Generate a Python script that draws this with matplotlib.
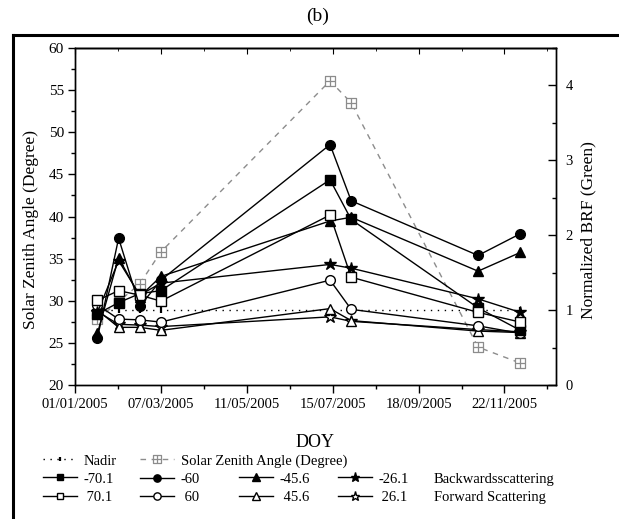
import matplotlib
matplotlib.use('Agg')
import matplotlib.pyplot as plt
import matplotlib.dates as mdates
from matplotlib.path import Path
from matplotlib.lines import Line2D
from matplotlib.ticker import FixedLocator, MultipleLocator
import numpy as np
import pandas as pd

plt.rcParams['font.family'] = 'Liberation Serif'

# composite dates (DOY) and values
dates = ['2005-01-18', '2005-02-03', '2005-02-19', '2005-03-07',
         '2005-07-13', '2005-07-29', '2005-11-02', '2005-12-04']
tick_dates = ['2005-01-01', '2005-03-07', '2005-05-11', '2005-07-15',
              '2005-09-18', '2005-11-22']

sza = [27.8, 29.9, 32.0, 35.8, 56.1, 53.5, 24.5, 22.6]
nadir = [1.0, 1.0, 1.0, 1.0, 1.0, 1.0, 1.0, 1.0]

# backward scattering (filled markers)
m70 = [0.95, 1.10, 1.22, 1.26, 2.74, 2.21, 1.03, 0.73]
m60 = [0.63, 1.96, 1.05, 1.40, 3.21, 2.46, 1.73, 2.02]
m45 = [0.69, 1.70, 1.18, 1.45, 2.19, 2.24, 1.52, 1.77]
m26 = [0.97, 1.66, 1.20, 1.36, 1.61, 1.56, 1.15, 0.97]

# forward scattering (open markers)
p70 = [1.13, 1.26, 1.20, 1.12, 2.27, 1.44, 0.97, 0.84]
p60 = [1.07, 0.88, 0.87, 0.84, 1.40, 1.01, 0.79, 0.69]
p45 = [1.00, 0.77, 0.77, 0.73, 1.02, 0.86, 0.72, 0.70]
p26 = [0.98, 0.81, 0.80, 0.78, 0.91, 0.85, 0.74, 0.71]

W, H = 619, 519
fig = plt.figure(figsize=(W / 100, H / 100), dpi=100)
ax = fig.add_axes([75 / W, 1 - 385 / H, (556 - 75) / W, (385 - 48) / H])
ax2 = ax.twinx()

x = mdates.date2num(pd.to_datetime(dates))
xt = mdates.date2num(pd.to_datetime(tick_dates))
x0 = xt[0]

# square with a cross inside for the solar zenith angle
boxplus = Path([(-1, -1), (1, -1), (1, 1), (-1, 1), (-1, -1), (0, -1), (0, 1), (-1, 0), (1, 0)],
               [Path.MOVETO, Path.LINETO, Path.LINETO, Path.LINETO, Path.CLOSEPOLY,
                Path.MOVETO, Path.LINETO, Path.MOVETO, Path.LINETO])

l_sza, = ax.plot(x, sza, color='#8c8c8c', ls=(0, (4, 4)), lw=1, marker=boxplus,
                 ms=7, mfc='white', mec='#8c8c8c', mew=0.9)

l_nad, = ax2.plot(x, nadir, color='k', ls=(0, (1, 4)), lw=1, marker='|', ms=4, mew=1.6)

style = dict(color='k', lw=1, mec='k', mew=1)
l_p26, = ax2.plot(x, p26, marker='*', ms=9, mfc='white', **style)
l_p45, = ax2.plot(x, p45, marker='^', ms=7.5, mfc='white', **style)
l_p60, = ax2.plot(x, p60, marker='o', ms=7, mfc='white', **style)
l_m26, = ax2.plot(x, m26, marker='*', ms=9, mfc='k', **style)
l_m45, = ax2.plot(x, m45, marker='^', ms=7.5, mfc='k', **style)
l_m70, = ax2.plot(x, m70, marker='s', ms=6.5, mfc='k', **style)
l_p70, = ax2.plot(x, p70, marker='s', ms=6.5, mfc='white', **style)
l_m60, = ax2.plot(x, m60, marker='o', ms=7, mfc='k', **style)

ax.set_xlim(x0, x0 + 364)
ax.set_ylim(20, 60)
ax2.set_ylim(0, 4.5)

ax.xaxis.set_major_locator(FixedLocator(xt))
ax.xaxis.set_minor_locator(FixedLocator(xt + 32.5))
ax.xaxis.set_major_formatter(mdates.DateFormatter('%d/%m/%Y'))
ax.yaxis.set_major_locator(MultipleLocator(5))
ax.yaxis.set_minor_locator(MultipleLocator(2.5))
ax2.yaxis.set_major_locator(FixedLocator([0, 1, 2, 3, 4]))
ax2.yaxis.set_minor_locator(MultipleLocator(0.5))

ax.tick_params(axis='x', which='major', direction='out', length=6, width=1, labelsize=10.5, pad=3)
ax.tick_params(axis='x', which='minor', direction='out', length=3, width=1)
ax.tick_params(axis='y', which='major', direction='out', length=5, width=1, labelsize=11, pad=3)
ax.tick_params(axis='y', which='minor', direction='out', length=3, width=1)
ax2.tick_params(axis='y', which='major', direction='in', length=6, width=1, labelsize=10.5, pad=7)
ax2.tick_params(axis='y', which='minor', direction='in', length=3, width=1)

top = ax.secondary_xaxis('top')
top.xaxis.set_major_locator(FixedLocator(xt))
top.xaxis.set_minor_locator(FixedLocator(xt + 32.5))
top.tick_params(which='major', direction='in', length=4, labeltop=False)
top.tick_params(which='minor', direction='in', length=2)

for a in (ax, ax2, top):
    for s in a.spines.values():
        s.set_linewidth(1)

ax.set_xlabel('DOY', fontsize=13)
ax.xaxis.set_label_coords(0.5, -0.145)
ax.set_ylabel('Solar Zenith Angle (Degree)', fontsize=12.5)
ax.yaxis.set_label_coords(-0.075, 0.46)
ax2.set_ylabel('Normalized BRF (Green)', fontsize=12.5)
ax2.yaxis.set_label_coords(1.05, 0.46)

fig.text(318 / W, 1 - 16 / H, '(b)', ha='center', va='center', fontsize=14)

# frame around the panel
fig.add_artist(Line2D([13 / W, 13 / W], [0, 1 - 35 / H], transform=fig.transFigure, color='k', lw=2.2))
fig.add_artist(Line2D([13 / W, 1], [1 - 35 / H, 1 - 35 / H], transform=fig.transFigure, color='k', lw=2.2))

leg_kw = dict(loc='center left', frameon=False, fontsize=10.5, borderpad=0, borderaxespad=0,
              handlelength=2.35, handletextpad=0.45, labelspacing=0.33, markerscale=0.75)
fig.legend([l_nad, l_m70, l_p70], ['Nadir', '-70.1', ' 70.1'],
           bbox_to_anchor=(42.6 / W, 1 - 479 / H), **leg_kw)
fig.legend([l_sza, l_m60, l_p60], ['Solar Zenith Angle (Degree)', '-60', ' 60'],
           bbox_to_anchor=(140 / W, 1 - 479 / H), **leg_kw)
fig.legend([l_m45, l_p45], ['-45.6', ' 45.6'],
           bbox_to_anchor=(239 / W, 1 - 488 / H), **leg_kw)
fig.legend([l_m26, l_p26], ['-26.1', ' 26.1'],
           bbox_to_anchor=(337.5 / W, 1 - 488 / H), **leg_kw)
fig.text(434 / W, 1 - 479 / H, 'Backwardsscattering', ha='left', va='center', fontsize=10.5)
fig.text(434 / W, 1 - 497 / H, 'Forward Scattering', ha='left', va='center', fontsize=10.5)

fig.savefig('out.png', dpi=100)
